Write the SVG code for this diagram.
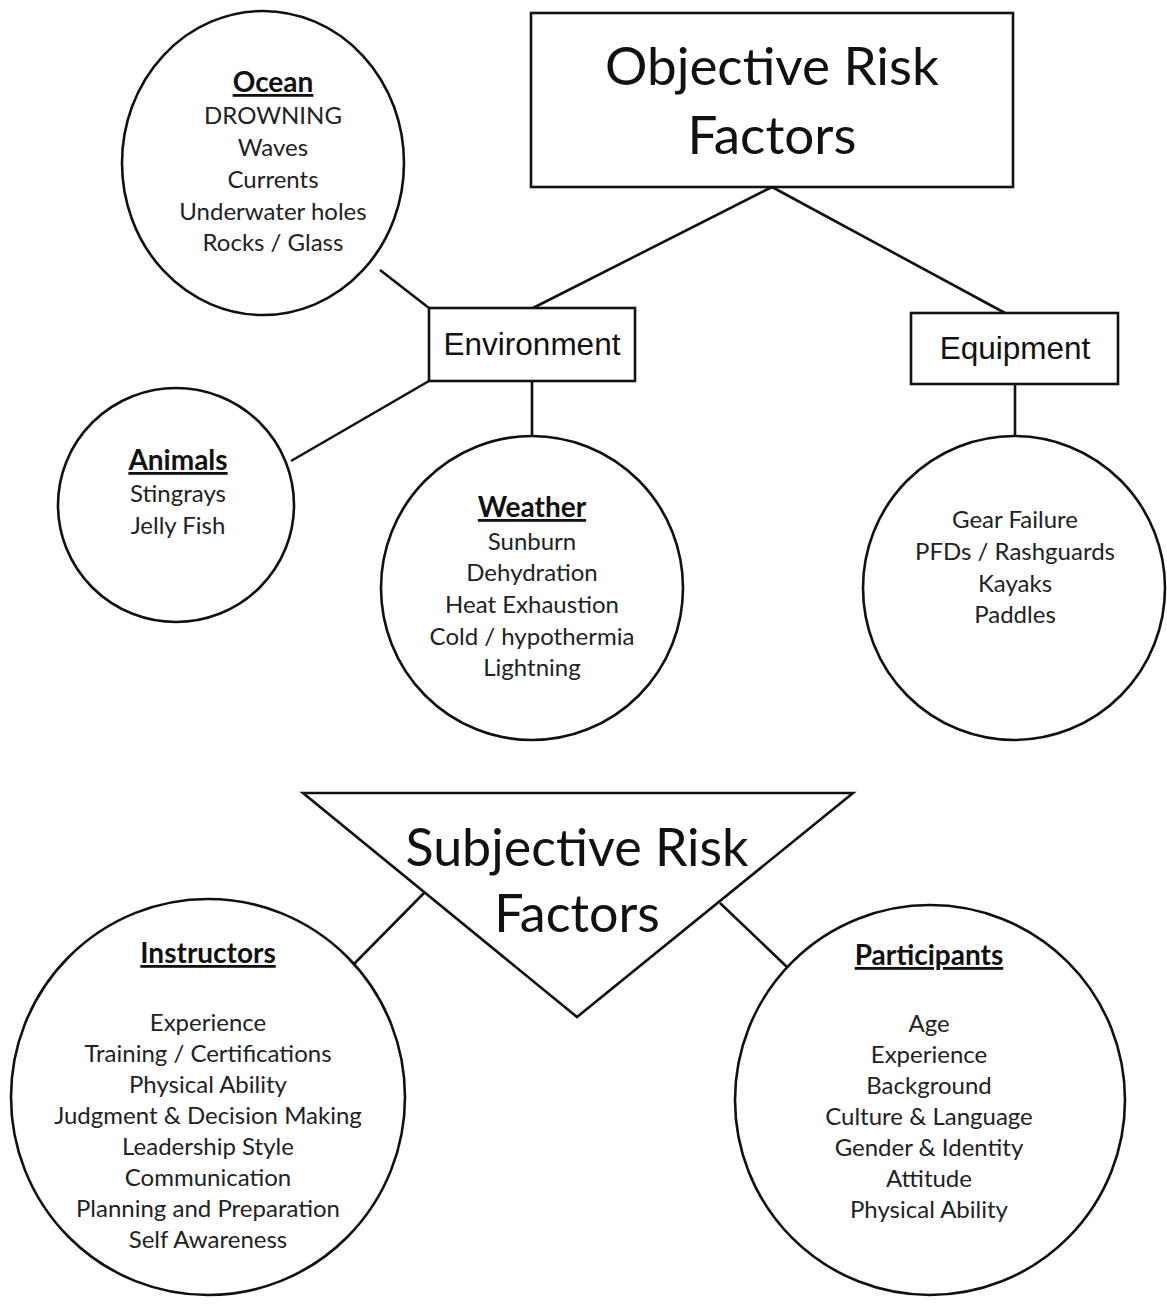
<svg xmlns="http://www.w3.org/2000/svg" width="1167" height="1304" viewBox="0 0 1167 1304">
<style>
.shape{fill:#fff;stroke:#111;stroke-width:2.6}
.conn line{stroke:#111;stroke-width:2.6}
.t{font-family:Lato,"Liberation Sans",sans-serif;font-size:24px;fill:#222;text-anchor:middle}
.h{font-weight:bold;font-size:28px;text-decoration:underline;fill:#111}
.big{font-family:Lato,"Liberation Sans",sans-serif;font-size:53px;fill:#111;text-anchor:middle}
.sub{font-size:52px}
.lbl{font-family:"Liberation Sans",Arial,sans-serif;font-size:31.5px;fill:#111;text-anchor:middle}
</style>
<rect width="1167" height="1304" fill="#fff"/>
<g class="conn" id="connectors">
<line x1="772" y1="187" x2="533" y2="308"/>
<line x1="772" y1="187" x2="1005" y2="313"/>
<line x1="380" y1="270" x2="429" y2="308"/>
<line x1="429" y1="381" x2="291" y2="461"/>
<line x1="532" y1="381" x2="532" y2="437"/>
<line x1="1015" y1="384" x2="1015" y2="437"/>
<line x1="352" y1="966" x2="425" y2="892"/>
<line x1="720" y1="903" x2="787" y2="967"/>
</g>
<g id="objective">
<rect class="shape" x="531" y="13" width="482" height="174"/>
<text class="big" x="772" y="85">Objective Risk</text>
<text class="big" x="772" y="154">Factors</text>
</g>
<g id="environment">
<rect class="shape" x="429" y="308" width="206" height="73"/>
<text class="lbl" x="532" y="355">Environment</text>
</g>
<g id="equipment">
<rect class="shape" x="911" y="313" width="207" height="71"/>
<text class="lbl" x="1015" y="359">Equipment</text>
</g>
<g id="ocean">
<ellipse class="shape" cx="263" cy="163" rx="141" ry="152"/>
<text class="t h" x="273" y="92">Ocean</text>
<text class="t" x="273" y="124">DROWNING</text>
<text class="t" x="273" y="156">Waves</text>
<text class="t" x="273" y="188">Currents</text>
<text class="t" x="273" y="220">Underwater holes</text>
<text class="t" x="273" y="251">Rocks / Glass</text>
</g>
<g id="animals">
<ellipse class="shape" cx="176" cy="505" rx="118" ry="117"/>
<text class="t h" x="178" y="470">Animals</text>
<text class="t" x="178" y="502">Stingrays</text>
<text class="t" x="178" y="534">Jelly Fish</text>
</g>
<g id="weather">
<ellipse class="shape" cx="532" cy="588" rx="151" ry="152"/>
<text class="t h" x="532" y="517">Weather</text>
<text class="t" x="532" y="550">Sunburn</text>
<text class="t" x="532" y="581">Dehydration</text>
<text class="t" x="532" y="613">Heat Exhaustion</text>
<text class="t" x="532" y="645">Cold / hypothermia</text>
<text class="t" x="532" y="676">Lightning</text>
</g>
<g id="gear">
<ellipse class="shape" cx="1014" cy="588" rx="151" ry="152"/>
<text class="t" x="1015" y="528">Gear Failure</text>
<text class="t" x="1015" y="560">PFDs / Rashguards</text>
<text class="t" x="1015" y="592">Kayaks</text>
<text class="t" x="1015" y="623">Paddles</text>
</g>
<g id="subjective">
<polygon class="shape" points="303,793 853,793 577,1017"/>
<text class="big sub" x="577" y="866">Subjective Risk</text>
<text class="big sub" x="577" y="932">Factors</text>
</g>
<g id="instructors">
<ellipse class="shape" cx="208" cy="1097" rx="197" ry="198"/>
<text class="t h" x="208" y="963">Instructors</text>
<text class="t" x="208" y="1031">Experience</text>
<text class="t" x="208" y="1062">Training / Certifications</text>
<text class="t" x="208" y="1093">Physical Ability</text>
<text class="t" x="208" y="1124">Judgment &amp; Decision Making</text>
<text class="t" x="208" y="1155">Leadership Style</text>
<text class="t" x="208" y="1186">Communication</text>
<text class="t" x="208" y="1217">Planning and Preparation</text>
<text class="t" x="208" y="1248">Self Awareness</text>
</g>
<g id="participants">
<ellipse class="shape" cx="930" cy="1100" rx="195" ry="195"/>
<text class="t h" x="929" y="965">Participants</text>
<text class="t" x="929" y="1032">Age</text>
<text class="t" x="929" y="1063">Experience</text>
<text class="t" x="929" y="1094">Background</text>
<text class="t" x="929" y="1125">Culture &amp; Language</text>
<text class="t" x="929" y="1156">Gender &amp; Identity</text>
<text class="t" x="929" y="1187">Attitude</text>
<text class="t" x="929" y="1218">Physical Ability</text>
</g>
</svg>
